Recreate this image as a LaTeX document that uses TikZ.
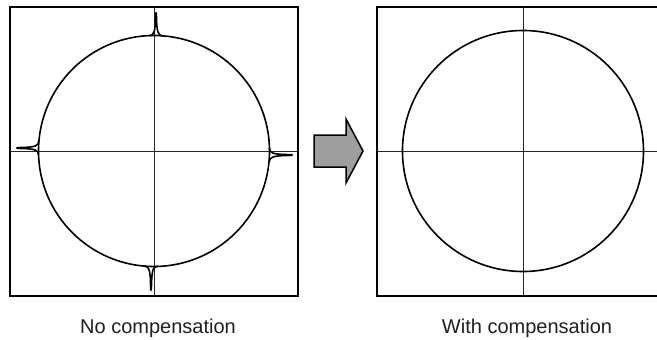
\documentclass[tikz,border=0pt]{standalone}
\usepackage{fontspec}
\setmainfont{Liberation Sans}
\begin{document}
\begin{tikzpicture}[x=1pt,y=-1pt,
  frame/.style={line width=1.8pt, black},
  axis/.style={line width=0.8pt, black!85},
  trace/.style={line width=1.6pt, black, line join=round},
  arrowshape/.style={line width=1.5pt, black, fill=black!38, line join=miter},
  caption/.style={font=\fontsize{20}{22}\selectfont, text=black!88, anchor=base, inner sep=0pt}]
\useasboundingbox (0,0) rectangle (657,340);
% left panel
\draw[frame] (10,7) rectangle (298,296);
\draw[axis] (154,7) -- (154,296);
\draw[axis] (10,151) -- (298,151);
\draw[trace] (154,151) circle[radius=115.5pt];
% spikes
\draw[trace] (149,35.8) .. controls (154,35.6) and (155.4,33) .. (155.6,13) -- (156.4,13) .. controls (156.6,33) and (158,35.6) .. (163,36);
\draw[trace] (144,266) .. controls (149,266.4) and (150.6,269) .. (150.6,290) -- (151.4,290) .. controls (151.6,269) and (153,266.4) .. (158,266.2);
\draw[trace] (38.7,141) .. controls (38.6,146) and (36,147.4) .. (17,147.6) -- (17,148.4) .. controls (36,148.6) and (38.6,150) .. (38.5,155);
\draw[trace] (269.4,148) .. controls (269.6,153) and (272,154.6) .. (292,154.6) -- (292,155.4) .. controls (272,155.6) and (269.6,157) .. (269.2,162);
% arrow
\draw[arrowshape] (314,135) -- (346,135) -- (346,119) -- (363,151) -- (346,183) -- (346,167) -- (314,167) -- cycle;
% right panel
\draw[frame] (658,7) -- (377,7) -- (377,296) -- (658,296);
\draw[axis] (523,7) -- (523,296);
\draw[axis] (377,151) -- (658,151);
\draw[trace] (523,151) circle[radius=120.5pt];
% captions
\node[caption] (capL) at (158,333) {No compensation};
\node[caption] (capR) at (527,333) {With compensation};
\end{tikzpicture}
\end{document}
